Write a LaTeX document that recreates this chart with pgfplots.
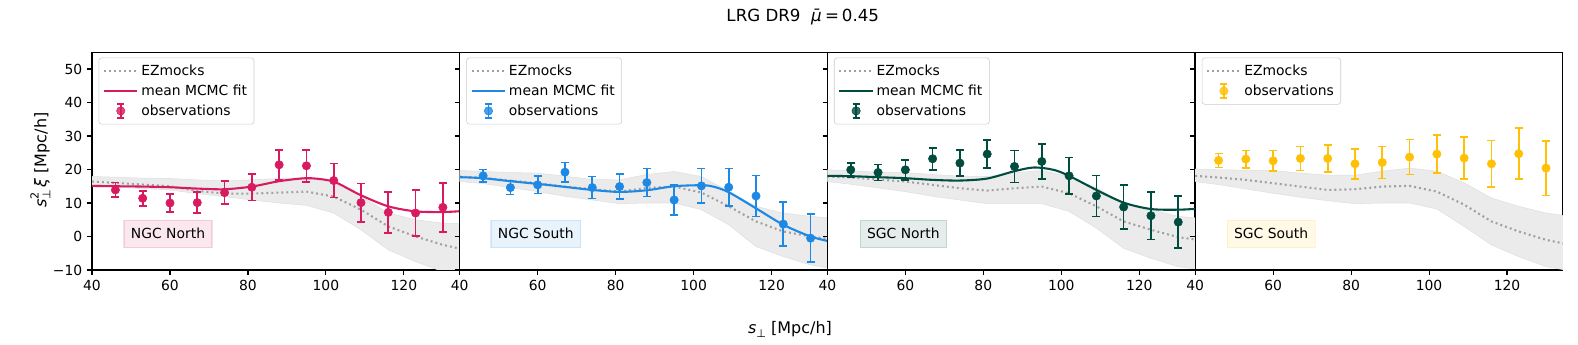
\documentclass[border=0pt]{standalone}
\usepackage{pgfplots}
\pgfplotsset{compat=1.18}
\usepackage{fontspec}
\setmainfont{DejaVu Sans}

\definecolor{cA}{HTML}{D81B60}
\definecolor{cB}{HTML}{1E88E5}
\definecolor{cC}{HTML}{004D40}
\definecolor{cD}{HTML}{FFC107}
\definecolor{bandc}{HTML}{EBEBEB}
\definecolor{ezc}{HTML}{A0A0A0}

\tikzset{
  tag/.style={font=\fontsize{10}{12}\selectfont, inner xsep=5pt, inner ysep=6pt,
    fill opacity=0.1, draw opacity=0.15, text opacity=1, line width=0.8pt},
}

\pgfplotsset{
  panel/.style={
    scale only axis, width=264.7pt, height=156.8pt,
    anchor=south west,
    xmin=40, xmax=134.3, ymin=-10, ymax=55,
    xtick={40,60,80,100,120},
    ytick={-10,0,10,20,30,40,50},
    yticklabels={−10,0,10,20,30,40,50},
    tick align=outside, xtick pos=bottom, ytick pos=left,
    major tick length=3.5pt,
    every tick/.style={black, line width=0.8pt},
    axis line style={line width=0.8pt},
    /pgf/number format/assume math mode=true,
    tick label style={font=\fontsize{10}{12}\selectfont},
    legend style={at={(0.018,0.975)}, anchor=north west,
      draw=black!20, rounded corners=2pt, fill=white, fill opacity=0.8, text opacity=1,
      font=\fontsize{10}{12}\selectfont, row sep=1.2pt, inner xsep=3pt, inner ysep=3pt},
    legend cell align=left,
  },
  band/.style={fill=bandc, draw=black!12, line width=0.4pt, forget plot},
  ez/.style={ezc, line width=1.5pt, dash pattern=on 1.4pt off 2.2pt,
    legend image code/.code={\draw[ezc, line width=1.5pt, dash pattern=on 1.4pt off 2.2pt] (0pt,0pt) -- (24pt,0pt);}},
  fit/.style={line width=1.5pt, smooth, tension=0.5, no marks,
    legend image code/.code={\draw[line width=1.5pt] (0pt,0pt) -- (24pt,0pt);}},
  obs/.style={only marks, mark=*, mark size=3pt,
    error bars/y dir=both, error bars/y explicit,
    error bars/error bar style={line width=1.2pt},
    error bars/error mark options={rotate=90, mark size=2.9pt, line width=1.2pt},
    legend image code/.code={
      \path[draw=none, fill=none] (0pt,0pt) -- (24pt,0pt);
      \draw[line width=1.2pt] (12pt,-5pt) -- (12pt,5pt);
      \draw[line width=1.2pt] (9.5pt,-5pt) -- (14.5pt,-5pt);
      \draw[line width=1.2pt] (9.5pt,5pt) -- (14.5pt,5pt);
      \fill (12pt,0pt) circle (3pt);}},
}

\begin{document}
\begin{tikzpicture}
\path[use as bounding box] (0pt,0pt) rectangle (1136.16pt,248.4pt);

% ---- NGC North ----
\begin{axis}[panel, at={(66.24pt,54pt)}]
\addplot[band] coordinates {
 (40,17.9)(46,17.7)(53,17.4)(60,17.3)(67,16.9)(74,16.6)(81,16.9)(88,17.3)(95,17.6)(102,15.9)(109,12.0)(116,7.0)(123,5.0)(130,4.0)(135,3.8)
 (135,-12)(130,-10.5)(123,-7.5)(116,-4.0)(109,2.0)(102,7.0)(95,9.3)(88,10.0)(81,10.9)(74,11.9)(67,12.8)(60,13.9)(53,14.3)(46,14.8)(40,15.1)} -- cycle;
\addplot[ez] coordinates {
 (40,16.4)(46,16.0)(53,15.5)(60,15.0)(67,13.6)(74,12.8)(81,12.8)(88,13.1)(95,13.4)(102,11.9)(109,8.0)(116,3.0)(123,0.0)(130,-2.5)(135,-3.8)};
\addlegendentry{EZmocks}
\addplot[cA, fit] coordinates {
 (40,15.1)(46,15.0)(53,14.9)(60,14.7)(67,14.3)(74,14.1)(81,14.9)(88,16.5)(95,17.4)(100,16.9)(103,15.9)(109,12.3)(116,9.0)(123,7.5)(130,7.3)(135,7.6)};
\addlegendentry{mean MCMC fit}
\addplot[cA, obs] table[x=x, y=y, y error=e] {
x y e
46 13.9 2.2
53 11.4 2.2
60 10.0 2.6
67 10.1 3.1
74 13.1 3.5
81 14.7 4.0
88 21.4 4.5
95 21.1 4.8
102 16.7 5.1
109 10.1 5.7
116 7.2 6.1
123 7.0 6.9
130 8.7 7.3
};
\addlegendentry{observations}
\node[tag, fill=cA, draw=cA] at (axis cs:59.5,0.8) {NGC North};
\end{axis}

% ---- NGC South ----
\begin{axis}[panel, at={(331pt,54pt)}, yticklabels={}]
\addplot[band] coordinates {
 (40,19.7)(46,19.4)(53,19.1)(60,18.9)(67,18.0)(74,17.0)(81,16.9)(88,18.5)(95,19.4)(102,17.9)(109,13.5)(116,9.0)(123,7.0)(130,6.0)(135,5.5)
 (135,-9.5)(130,-8.5)(123,-6.0)(116,-3.0)(109,3.5)(102,8.0)(95,10.0)(88,10.0)(81,9.8)(74,10.9)(67,12.0)(60,13.4)(53,14.6)(46,15.8)(40,16.4)} -- cycle;
\addplot[ez] coordinates {
 (40,17.9)(46,17.5)(53,16.7)(60,15.9)(67,14.9)(74,14.1)(81,13.4)(88,14.5)(95,14.9)(102,13.1)(109,9.0)(116,4.5)(123,1.5)(130,0.0)(135,-0.8)};
\addlegendentry{EZmocks}
\addplot[cB, fit] coordinates {
 (40,17.7)(46,17.4)(53,16.5)(60,15.7)(67,14.8)(74,13.9)(81,13.3)(88,13.8)(95,15.0)(102,15.3)(105,14.9)(109,13.2)(116,8.4)(123,3.5)(130,0.0)(135,-1.5)};
\addlegendentry{mean MCMC fit}
\addplot[cB, obs] table[x=x, y=y, y error=e] {
x y e
46 18.1 1.9
53 14.6 2.1
60 15.4 2.6
67 19.2 2.9
74 14.6 3.3
81 14.9 3.7
88 16.1 4.2
95 10.9 4.5
102 15.1 5.2
109 14.7 5.6
116 12.1 6.1
123 3.7 6.6
130 -0.5 7.2
};
\addlegendentry{observations}
\node[tag, fill=cB, draw=cB] at (axis cs:59.5,0.8) {NGC South};
\end{axis}

% ---- SGC North ----
\begin{axis}[panel, at={(595.7pt,54pt)}, yticklabels={}]
\addplot[band] coordinates {
 (40,19.9)(46,19.6)(53,19.2)(60,19.1)(67,18.5)(74,18.0)(81,17.9)(88,19.0)(95,19.7)(102,17.9)(109,14.5)(116,10.0)(123,8.0)(130,6.0)(135,5.5)
 (135,-9.8)(130,-9.0)(123,-6.5)(116,-3.5)(109,2.5)(102,7.5)(95,9.8)(88,9.8)(81,9.8)(74,10.9)(67,12.0)(60,13.4)(53,14.5)(46,15.6)(40,16.4)} -- cycle;
\addplot[ez] coordinates {
 (40,17.9)(46,17.6)(53,17.0)(60,16.4)(67,15.4)(74,14.4)(81,13.7)(88,14.4)(95,14.9)(102,12.9)(109,9.0)(116,4.5)(123,2.0)(130,-0.2)(135,-1.0)};
\addlegendentry{EZmocks}
\addplot[cC, fit] coordinates {
 (40,18.1)(46,18.0)(53,17.7)(60,17.4)(67,16.9)(74,16.7)(81,17.3)(88,19.5)(93,20.6)(98,19.9)(102,18.1)(109,13.9)(116,10.1)(123,8.2)(130,8.0)(135,8.3)};
\addlegendentry{mean MCMC fit}
\addplot[cC, obs] table[x=x, y=y, y error=e] {
x y e
46 19.9 2.1
53 19.1 2.4
60 19.9 3.0
67 23.2 3.3
74 21.9 3.9
81 24.6 4.2
88 20.9 4.8
95 22.4 5.2
102 18.1 5.5
109 12.1 6.1
116 8.8 6.5
123 6.2 7.1
130 4.3 7.7
};
\addlegendentry{observations}
\node[tag, fill=cC, draw=cC] at (axis cs:59.5,0.8) {SGC North};
\end{axis}

% ---- SGC South ----
\begin{axis}[panel, at={(860.5pt,54pt)}, yticklabels={}]
\addplot[band] coordinates {
 (40,20.1)(46,19.9)(53,19.8)(60,19.7)(67,18.9)(74,18.3)(81,18.3)(88,19.5)(95,20.4)(102,19.5)(109,16.0)(116,11.5)(123,9.0)(130,7.0)(135,6.2)
 (135,-10.0)(130,-9.0)(123,-6.0)(116,-2.5)(109,3.0)(102,8.2)(95,10.0)(88,10.0)(81,9.8)(74,10.7)(67,11.7)(60,12.9)(53,14.2)(46,15.5)(40,16.4)} -- cycle;
\addplot[ez] coordinates {
 (40,18.1)(46,17.6)(53,16.9)(60,15.9)(67,14.9)(74,13.9)(81,14.1)(88,14.9)(95,15.1)(102,13.4)(109,9.5)(116,4.5)(123,1.5)(130,-1.0)(135,-2.2)};
\addlegendentry{EZmocks}
\addplot[cD, obs] table[x=x, y=y, y error=e] {
x y e
46 22.7 2.1
53 23.1 2.6
60 22.6 3.1
67 23.3 3.6
74 23.3 4.0
81 21.7 4.5
88 22.1 4.8
95 23.7 5.2
102 24.6 5.6
109 23.4 6.2
116 21.7 7.0
123 24.7 7.6
130 20.4 8.2
};
\addlegendentry{observations}
\node[tag, fill=cD, draw=cD] at (axis cs:59.5,0.8) {SGC South};
\end{axis}

\node[rotate=90, font=\fontsize{11.5}{13}\selectfont] at (29pt,133pt)
  {\textit{s}\rlap{\raisebox{0.9ex}{\fontsize{8}{9}\selectfont 2}}\raisebox{-0.45ex}{\fontsize{8}{9}\selectfont ⊥}\,\textit{ξ} [Mpc/h]};
\node[font=\fontsize{11.5}{13}\selectfont] at (568.8pt,11pt)
  {\textit{s}\raisebox{-0.45ex}{\fontsize{8}{9}\selectfont ⊥} [Mpc/h]};
\node[font=\fontsize{12}{14}\selectfont] at (578pt,236.2pt) {LRG DR9\ \ \textit{\=μ}\,=\,0.45};
\end{tikzpicture}
\end{document}
